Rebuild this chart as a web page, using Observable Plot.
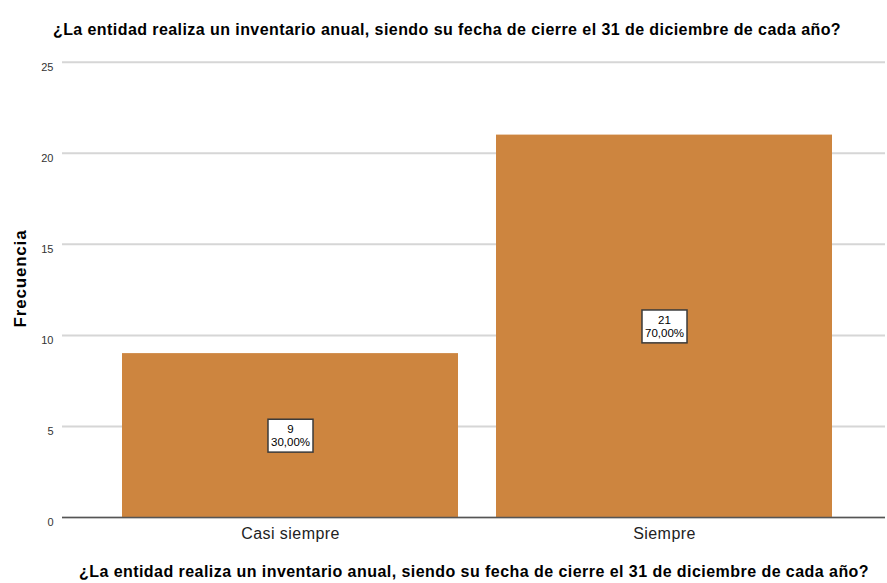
<!DOCTYPE html>
<html>
<head>
<meta charset="utf-8">
<script src="https://cdn.jsdelivr.net/npm/d3@7"></script>
<script src="https://cdn.jsdelivr.net/npm/@observablehq/plot@0.6"></script>
<style>
  html, body { margin: 0; padding: 0; background: #fff; }
  #chart svg { display: block; }
</style>
</head>
<body>
<div id="chart"></div>
<script>
const categories = ["Casi siempre", "Siempre"];
const counts = [9, 21];
const yTicks = [0, 5, 10, 15, 20, 25];
const titleText = "¿La entidad realiza un inventario anual, siendo su fecha de cierre el 31 de diciembre de cada año?";
const yLabel = "Frecuencia";

const total = d3.sum(counts);
const data = categories.map((c, i) => ({
  cat: c,
  n: counts[i],
  label: counts[i] + "\n" + (counts[i] / total * 100).toFixed(2).replace(".", ",") + "%"
}));

const W = 887, H = 583;
const chart = Plot.plot({
  width: W,
  height: H,
  marginLeft: 62,
  marginRight: 2,
  marginTop: 39,
  marginBottom: 66,
  style: { fontFamily: "'Liberation Sans', Arial, sans-serif", background: "#fff", overflow: "visible" },
  x: {
    domain: categories,
    paddingInner: 0.1016,
    paddingOuter: 0.151,
    align: 0.53,
    label: titleText,
    labelAnchor: "center",
    labelOffset: 59,
    tickSize: 0,
    tickPadding: 10
  },
  y: {
    domain: [0, 26.25],
    ticks: yTicks,
    label: yLabel,
    labelAnchor: "center",
    labelArrow: "none",
    labelOffset: 49,
    tickSize: 0,
    tickPadding: 9
  },
  marks: [
    Plot.gridY(yTicks, { stroke: "#d6d6d6", strokeOpacity: 1, strokeWidth: 2 }),
    Plot.barY(data, { x: "cat", y: "n", fill: "#cd853f" }),
    Plot.ruleX([0], { frameAnchor: "left", stroke: "#a0a0a0", strokeWidth: 2 }),
    Plot.ruleY([0], { stroke: "#555", strokeWidth: 1.5 }),
    Plot.text(data, {
      x: "cat",
      y: d => d.n / 2,
      text: "label",
      fontSize: 11.5,
      lineHeight: 1.12,
      fill: "#000",
      className: "bar-label"
    }),
    Plot.text([titleText], { frameAnchor: "top", dy: -16, dx: -27, fontSize: 16, fontWeight: "bold", fill: "#000", className: "chart-title" })
  ]
});

document.getElementById("chart").appendChild(chart);

const sel = d3.select(chart);
sel.selectAll("[aria-label='y-axis tick label']").attr("font-size", 11).attr("fill", "#333");
sel.selectAll("[aria-label='y-axis tick label'] text").attr("dy", "0.45em");
sel.selectAll("[aria-label='x-axis tick label']").attr("font-size", 16).attr("fill", "#222").attr("letter-spacing", "0.45px");
sel.selectAll("[aria-label='x-axis label']").attr("font-size", 16).attr("font-weight", "bold").attr("fill", "#000").attr("letter-spacing", "0.45px");
sel.selectAll("[aria-label='y-axis label']").attr("font-size", 17).attr("font-weight", "bold").attr("fill", "#000").attr("letter-spacing", "0.8px");
sel.selectAll("g.chart-title text").attr("letter-spacing", "0.43px");

// white boxes behind the bar labels
sel.selectAll("g.bar-label text").each(function() {
  const bb = this.getBBox();
  const padX = 3, padY = 4;
  const r = d3.select(this.parentNode).insert("rect", () => this)
    .attr("x", bb.x - padX)
    .attr("y", bb.y - padY)
    .attr("width", bb.width + 2 * padX)
    .attr("height", bb.height + 2 * padY)
    .attr("fill", "#fff")
    .attr("stroke", "#3a3a3a")
    .attr("stroke-width", 1.5);
  const t = this.getAttribute("transform");
  if (t) r.attr("transform", t);
});
</script>
</body>
</html>
